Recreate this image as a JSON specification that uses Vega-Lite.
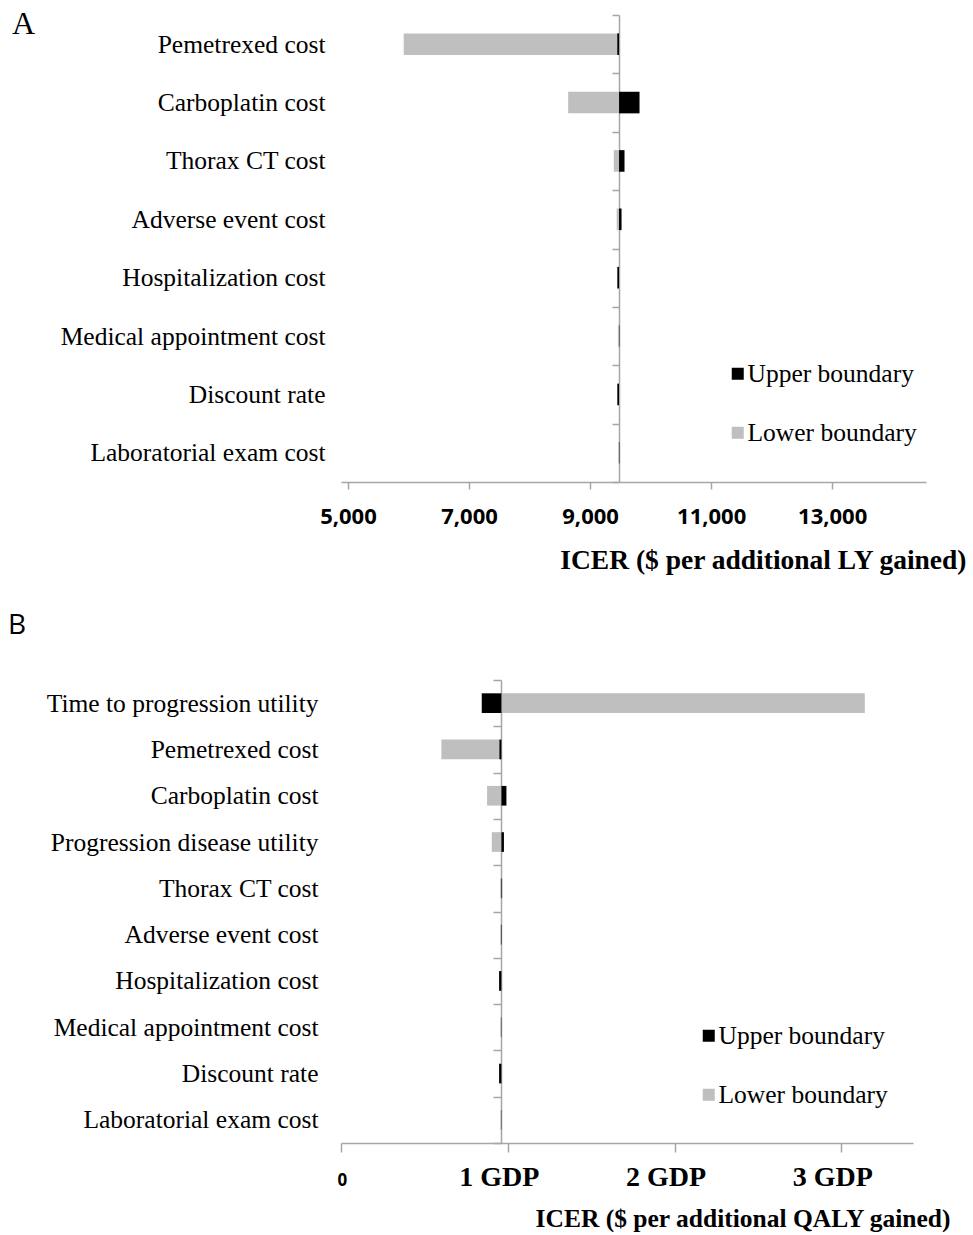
{
  "$schema": "https://vega.github.io/schema/vega-lite/v6.json",
  "background": "white",
  "padding": {"left": 8, "top": 3, "right": 0, "bottom": 0},
  "config": {"view": {"stroke": null}},
  "spacing": 198,
  "bounds": "flush",
  "resolve": {"scale": {"color": "independent", "x": "independent", "y": "independent"}, "legend": {"color": "independent"}},
  "vconcat": [
    {
      "title": {"text": "A", "anchor": "start", "frame": "group", "font": "Liberation Serif", "fontSize": 32, "fontWeight": "normal", "baseline": "alphabetic", "offset": 0, "dx": -329, "dy": 63, "color": "black"},
      "width": 585,
      "height": 467,
      "data": {"values": [
        {"param": "Pemetrexed cost", "bound": "Lower boundary", "value": 5921, "base": 9479},
        {"param": "Pemetrexed cost", "bound": "Upper boundary", "value": 9450, "base": 9479},
        {"param": "Carboplatin cost", "bound": "Lower boundary", "value": 8638, "base": 9479},
        {"param": "Carboplatin cost", "bound": "Upper boundary", "value": 9817, "base": 9479},
        {"param": "Thorax CT cost", "bound": "Lower boundary", "value": 9392, "base": 9479},
        {"param": "Thorax CT cost", "bound": "Upper boundary", "value": 9569, "base": 9479},
        {"param": "Adverse event cost", "bound": "Lower boundary", "value": 9440, "base": 9479},
        {"param": "Adverse event cost", "bound": "Upper boundary", "value": 9520, "base": 9479},
        {"param": "Hospitalization cost", "bound": "Lower boundary", "value": 9485, "base": 9479},
        {"param": "Hospitalization cost", "bound": "Upper boundary", "value": 9450, "base": 9479},
        {"param": "Medical appointment cost", "bound": "Lower boundary", "value": 9460, "base": 9479},
        {"param": "Medical appointment cost", "bound": "Upper boundary", "value": 9485, "base": 9479},
        {"param": "Discount rate", "bound": "Lower boundary", "value": 9490, "base": 9479},
        {"param": "Discount rate", "bound": "Upper boundary", "value": 9450, "base": 9479},
        {"param": "Laboratorial exam cost", "bound": "Lower boundary", "value": 9465, "base": 9479},
        {"param": "Laboratorial exam cost", "bound": "Upper boundary", "value": 9485, "base": 9479}
      ]},
      "mark": {"type": "bar", "height": {"band": 0.37}},
      "encoding": {
        "y": {"field": "param", "type": "nominal",
          "sort": ["Pemetrexed cost","Carboplatin cost","Thorax CT cost","Adverse event cost","Hospitalization cost","Medical appointment cost","Discount rate","Laboratorial exam cost"],
          "scale": {"paddingInner": 0, "paddingOuter": 0},
          "axis": {"title": null, "orient": "left", "offset": -278, "tickBand": "extent", "tickSize": 7, "tickWidth": 1.5, "tickColor": "#a6a6a6", "domainColor": "#a6a6a6", "domainWidth": 1.5, "labelPadding": 287, "labelFont": "Liberation Serif", "labelFontSize": 25.5, "labelColor": "black", "labelLimit": 400, "grid": false}},
        "x": {"field": "value", "type": "quantitative",
          "scale": {"domain": [4885, 14550], "nice": false, "zero": false},
          "axis": {"values": [5000, 7000, 9000, 11000, 13000], "format": ",d", "grid": false, "tickSize": 7, "tickWidth": 1.5, "tickColor": "#a6a6a6", "domainColor": "#a6a6a6", "domainWidth": 1.5,
            "labelFont": "Open Sans", "labelFontWeight": "bold", "labelFontSize": 22, "labelColor": "black", "labelBaseline": "alphabetic", "labelPadding": 34,
            "title": "ICER ($ per additional LY gained)", "titleFont": "Liberation Serif", "titleFontSize": 27.5, "titleFontWeight": "bold", "titleColor": "black", "titleAnchor": "end", "titleAlign": "right", "titleBaseline": "alphabetic", "titleX": 625, "titleY": 86}},
        "x2": {"field": "base"},
        "color": {"field": "bound", "type": "nominal",
          "scale": {"domain": ["Upper boundary", "Lower boundary"], "range": ["#000000", "#bfbfbf"]},
          "legend": {"orient": "none", "legendX": 384, "legendY": 346, "title": null, "symbolType": "square", "symbolSize": 144, "symbolStrokeWidth": 0, "labelFont": "Liberation Serif", "labelFontSize": 25.5, "labelColor": "black", "labelOffset": -3, "rowPadding": 32, "labelLimit": 300}}
      }
    },
    {
      "title": {"text": "B", "anchor": "start", "frame": "group", "font": "Open Sans", "fontSize": 28, "fontWeight": "normal", "baseline": "alphabetic", "offset": 0, "dx": -333, "dy": -6, "color": "black"},
      "width": 572,
      "height": 463,
      "data": {"values": [
        {"param": "Time to progression utility", "bound": "Lower boundary", "value": 3.141, "base": 0.962},
        {"param": "Time to progression utility", "bound": "Upper boundary", "value": 0.844, "base": 0.962},
        {"param": "Pemetrexed cost", "bound": "Lower boundary", "value": 0.602, "base": 0.962},
        {"param": "Pemetrexed cost", "bound": "Upper boundary", "value": 0.95, "base": 0.962},
        {"param": "Carboplatin cost", "bound": "Lower boundary", "value": 0.876, "base": 0.962},
        {"param": "Carboplatin cost", "bound": "Upper boundary", "value": 0.992, "base": 0.962},
        {"param": "Progression disease utility", "bound": "Lower boundary", "value": 0.904, "base": 0.962},
        {"param": "Progression disease utility", "bound": "Upper boundary", "value": 0.977, "base": 0.962},
        {"param": "Thorax CT cost", "bound": "Lower boundary", "value": 0.955, "base": 0.962},
        {"param": "Thorax CT cost", "bound": "Upper boundary", "value": 0.966, "base": 0.962},
        {"param": "Adverse event cost", "bound": "Lower boundary", "value": 0.955, "base": 0.962},
        {"param": "Adverse event cost", "bound": "Upper boundary", "value": 0.965, "base": 0.962},
        {"param": "Hospitalization cost", "bound": "Lower boundary", "value": 0.966, "base": 0.962},
        {"param": "Hospitalization cost", "bound": "Upper boundary", "value": 0.948, "base": 0.962},
        {"param": "Medical appointment cost", "bound": "Lower boundary", "value": 0.955, "base": 0.962},
        {"param": "Medical appointment cost", "bound": "Upper boundary", "value": 0.964, "base": 0.962},
        {"param": "Discount rate", "bound": "Lower boundary", "value": 0.966, "base": 0.962},
        {"param": "Discount rate", "bound": "Upper boundary", "value": 0.948, "base": 0.962},
        {"param": "Laboratorial exam cost", "bound": "Lower boundary", "value": 0.956, "base": 0.962},
        {"param": "Laboratorial exam cost", "bound": "Upper boundary", "value": 0.964, "base": 0.962}
      ]},
      "mark": {"type": "bar", "height": {"band": 0.425}},
      "encoding": {
        "y": {"field": "param", "type": "nominal",
          "sort": ["Time to progression utility","Pemetrexed cost","Carboplatin cost","Progression disease utility","Thorax CT cost","Adverse event cost","Hospitalization cost","Medical appointment cost","Discount rate","Laboratorial exam cost"],
          "scale": {"paddingInner": 0, "paddingOuter": 0},
          "axis": {"title": null, "orient": "left", "offset": -160, "tickBand": "extent", "tickSize": 8, "tickWidth": 1.5, "tickColor": "#a6a6a6", "domainColor": "#a6a6a6", "domainWidth": 1.5, "labelPadding": 175, "labelFont": "Liberation Serif", "labelFontSize": 25.5, "labelColor": "black", "labelLimit": 400, "grid": false}},
        "x": {"field": "value", "type": "quantitative",
          "scale": {"domain": [0, 3.43], "nice": false, "zero": false},
          "axis": {"values": [0, 1, 2, 3], "labelExpr": "datum.value == 0 ? '0' : datum.value + ' GDP'", "grid": false, "tickSize": 9, "tickWidth": 1.5, "tickColor": "#a6a6a6", "domainColor": "#a6a6a6", "domainWidth": 1.5,
            "labelFont": {"condition": {"test": "datum.value == 0", "value": "Open Sans"}, "value": "Liberation Serif"},
            "labelFontSize": {"condition": {"test": "datum.value == 0", "value": 17}, "value": 28},
            "labelOffset": {"condition": {"test": "datum.value == 0", "value": -4}, "value": -9},
            "labelFontWeight": "bold", "labelColor": "black", "labelBaseline": "alphabetic", "labelPadding": 33,
            "title": "ICER ($ per additional QALY gained)", "titleFont": "Liberation Serif", "titleFontSize": 25.5, "titleFontWeight": "bold", "titleColor": "black", "titleAnchor": "end", "titleAlign": "right", "titleBaseline": "alphabetic", "titleX": 609, "titleY": 83}},
        "x2": {"field": "base"},
        "color": {"field": "bound", "type": "nominal",
          "scale": {"domain": ["Upper boundary", "Lower boundary"], "range": ["#000000", "#bfbfbf"]},
          "legend": {"orient": "none", "legendX": 355, "legendY": 343, "title": null, "symbolType": "square", "symbolSize": 144, "symbolStrokeWidth": 0, "labelFont": "Liberation Serif", "labelFontSize": 25.5, "labelColor": "black", "labelOffset": -3, "rowPadding": 32, "labelLimit": 300}}
      }
    }
  ]
}
